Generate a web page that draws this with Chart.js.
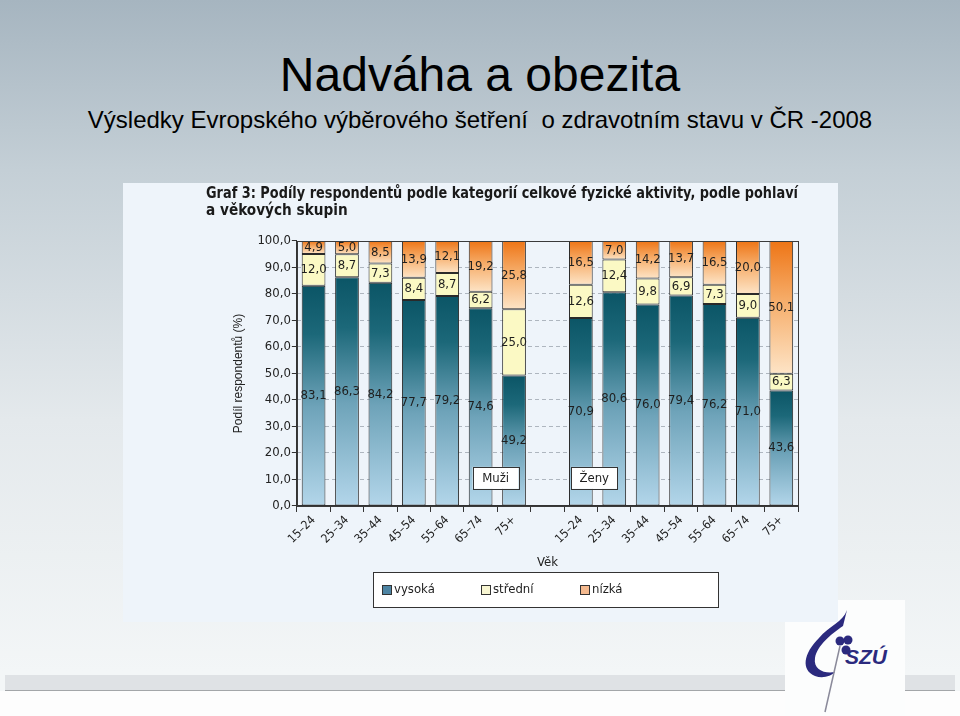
<!DOCTYPE html>
<html lang="cs">
<head>
<meta charset="utf-8">
<title>Nadváha a obezita</title>
<script src="https://cdn.jsdelivr.net/npm/chart.js@4.4.1/dist/chart.umd.min.js"></script>
<style>
  html, body { margin: 0; padding: 0; }
  body {
    width: 960px; height: 716px; position: relative; overflow: hidden;
    background: linear-gradient(#a6b5c0 0px, #c4cfd6 170px, #e4e9ec 420px, #f3f6f7 672px);
    font-family: 'Liberation Sans', Arial, sans-serif;
  }
  .title {
    position: absolute; left: 0; width: 960px; top: 47px;
    text-align: center; font-size: 48px; line-height: 56px; color: #000;
  }
  .subtitle {
    position: absolute; left: 0; width: 960px; top: 105px;
    text-align: center; font-size: 24px; line-height: 30px; color: #000;
    white-space: pre;
  }
  .band { position: absolute; top: 675px; height: 15px; background: #dfe2e5; border-bottom: 1px solid #a3a6a9; }
  .foot { position: absolute; top: 691px; left: 0; width: 960px; height: 25px; background: #fdfdfd; }
  .chart-box {
    position: absolute; left: 123px; top: 183px; width: 715px; height: 439px;
    background: #eef4fa;
  }
  .logo { position: absolute; left: 785px; top: 600px; width: 120px; height: 116px; background: #fcfdfd; }
</style>
</head>
<body>
<div class="title">Nadváha a obezita</div>
<div class="subtitle">Výsledky Evropského výběrového šetření  o zdravotním stavu v ČR -2008</div>
<div class="band" style="left:5px;width:780px"></div>
<div class="band" style="left:905px;width:50px"></div>
<div class="foot"></div>
<div class="logo">
  <svg width="120" height="116" viewBox="0 0 120 116">
    <path d="M62 10 C58 22 44 26 34 38 C18 54 16 70 30 76 C38 79 46 76 50 72 C40 74 28 70 30 58 C32 46 46 34 58 26 Z" fill="#2b2a7e"/>
    <circle cx="55" cy="41" r="4.5" fill="#2b2a7e"/>
    <circle cx="63" cy="40" r="4.5" fill="#2b2a7e"/>
    <circle cx="61" cy="50" r="4.5" fill="#2b2a7e"/>
    <path d="M55 46 L40 112" stroke="#8a8a9a" stroke-width="1.5" fill="none"/>
    <text x="60" y="64" font-family="Liberation Sans, Arial" font-weight="bold" font-style="italic" font-size="21" fill="#2b2a7e">SZÚ</text>
  </svg>
</div>
<div class="chart-box"><canvas id="graf3" width="715" height="439"></canvas></div>

<script>
// vekove skupiny
const ageGroups = ['15–24', '25–34', '35–44', '45–54', '55–64', '65–74', '75+'];

// Muzi (%)
const vysokaMuzi  = [83.1, 86.3, 84.2, 77.7, 79.2, 74.6, 49.2];
const stredniMuzi = [12.0, 8.7, 7.3, 8.4, 8.7, 6.2, 25.0];
const nizkaMuzi   = [4.9, 5.0, 8.5, 13.9, 12.1, 19.2, 25.8];

// Zeny (%)
const vysokaZeny  = [70.9, 80.6, 76.0, 79.4, 76.2, 71.0, 43.6];
const stredniZeny = [12.6, 12.4, 9.8, 6.9, 7.3, 9.0, 6.3];
const nizkaZeny   = [16.5, 7.0, 14.2, 13.7, 16.5, 20.0, 50.1];

const yTicks = [0, 10, 20, 30, 40, 50, 60, 70, 80, 90, 100];

// prazdna kategorie mezi muzi a zenami
const labels = [...ageGroups, '', ...ageGroups];
const join = (m, z) => [...m, null, ...z];

const narrow = "'Liberation Sans Narrow', 'DejaVu Sans Condensed', Arial, sans-serif";
const fmt = v => v.toFixed(1).replace('.', ',');

// gradient pres jeden segment sloupce
function segmentFill(stops, fallback) {
  return function(ctx) {
    const chart = ctx.chart;
    if (!chart.chartArea || ctx.type !== 'data' || ctx.raw == null) return fallback;
    let base = 0;
    for (let d = 0; d < ctx.datasetIndex; d++) {
      base += chart.data.datasets[d].data[ctx.dataIndex] || 0;
    }
    const y = chart.scales.y;
    const top = y.getPixelForValue(base + ctx.raw);
    const bottom = y.getPixelForValue(base);
    const g = chart.ctx.createLinearGradient(0, top, 0, bottom);
    stops.forEach(s => g.addColorStop(s[0], s[1]));
    return g;
  };
}

const framePlugin = {
  id: 'frame',
  afterDraw(chart) {
    const {ctx, chartArea: a} = chart;
    ctx.save();
    ctx.strokeStyle = '#3a3a3a';
    ctx.lineWidth = 1;
    ctx.strokeRect(Math.round(a.left) + 0.5, Math.round(a.top) + 0.5,
      Math.round(a.right - a.left), Math.round(a.bottom - a.top));
    ctx.restore();
  }
};

const valueLabels = {
  id: 'valueLabels',
  afterDatasetsDraw(chart) {
    const ctx = chart.ctx;
    ctx.save();
    ctx.font = '13px ' + narrow;
    ctx.fillStyle = '#1e1e1e';
    ctx.textAlign = 'center';
    ctx.textBaseline = 'middle';
    chart.data.datasets.forEach((ds, i) => {
      chart.getDatasetMeta(i).data.forEach((bar, j) => {
        const v = ds.data[j];
        if (v == null) return;
        const p = bar.getProps(['x', 'y', 'base'], true);
        ctx.fillText(fmt(v), p.x, (p.y + p.base) / 2);
      });
    });
    ctx.restore();
  }
};

// popisky skupin Muzi / Zeny
const groupTags = {
  id: 'groupTags',
  afterDatasetsDraw(chart) {
    const {ctx, scales: {x, y}} = chart;
    const tags = [['Muži', 5.45], ['Ženy', 8.4]];
    ctx.save();
    ctx.font = '13px ' + narrow;
    ctx.textAlign = 'center';
    ctx.textBaseline = 'middle';
    tags.forEach(([text, at]) => {
      const cx = x.getPixelForValue(at);
      const cy = y.getPixelForValue(10.6);
      ctx.fillStyle = '#ffffff';
      ctx.fillRect(cx - 23, cy - 11, 46, 22);
      ctx.strokeStyle = '#333';
      ctx.strokeRect(Math.round(cx - 23) + 0.5, Math.round(cy - 11) + 0.5, 46, 22);
      ctx.fillStyle = '#1e1e1e';
      ctx.fillText(text, cx, cy + 1);
    });
    ctx.restore();
  }
};

// legenda v ramecku pod grafem
const boxLegend = {
  id: 'boxLegend',
  afterDraw(chart) {
    const {ctx, chartArea: a} = chart;
    const cx = (a.left + a.right) / 2;
    const left = Math.round(cx - 174) + 0.5, top = 389.5, w = 345, h = 35;
    ctx.save();
    ctx.fillStyle = '#ffffff';
    ctx.fillRect(left, top, w, h);
    ctx.strokeStyle = '#333';
    ctx.lineWidth = 1;
    ctx.strokeRect(left, top, w, h);
    ctx.font = '13px ' + narrow;
    ctx.textBaseline = 'middle';
    chart.data.datasets.forEach((ds, i) => {
      const sx = Math.round(left + 8 + i * 99);
      const sy = Math.round(top + h / 2 - 5);
      ctx.fillStyle = ds.legendColor;
      ctx.fillRect(sx, sy, 9, 9);
      ctx.strokeStyle = '#333';
      ctx.strokeRect(sx + 0.5, sy + 0.5, 9, 9);
      ctx.fillStyle = '#1e1e1e';
      ctx.fillText(ds.label, sx + 12, top + h / 2);
    });
    ctx.restore();
  }
};

new Chart(document.getElementById('graf3'), {
  type: 'bar',
  data: {
    labels: labels,
    datasets: [
      {
        label: 'vysoká',
        data: join(vysokaMuzi, vysokaZeny),
        legendColor: '#4d84a3',
        backgroundColor: segmentFill([[0, '#0b5566'], [0.22, '#1c6879'], [0.55, '#6ea3b9'], [1, '#b3d6ea']], '#4d84a3')
      },
      {
        label: 'střední',
        data: join(stredniMuzi, stredniZeny),
        legendColor: '#f8f6d2',
        backgroundColor: '#fbf9c4'
      },
      {
        label: 'nízká',
        data: join(nizkaMuzi, nizkaZeny),
        legendColor: '#f4b98e',
        backgroundColor: segmentFill([[0, '#ee7516'], [0.45, '#f6ad6a'], [1, '#fde4c6']], '#f4b98e')
      }
    ].map(ds => Object.assign(ds, {
      borderColor: '#2a2a2a',
      borderWidth: 1,
      borderSkipped: false,
      categoryPercentage: 1,
      barPercentage: 0.71
    }))
  },
  options: {
    responsive: false,
    animation: false,
    layout: { padding: { left: 83, right: 40, top: 0, bottom: 51 } },
    scales: {
      x: {
        stacked: true,
        grid: { display: true, drawOnChartArea: false, offset: true, tickLength: 6, tickColor: '#333' },
        border: { color: '#333' },
        ticks: {
          autoSkip: false, minRotation: 45, maxRotation: 45, padding: 1,
          color: '#222', font: { family: narrow, size: 12 }
        },
        title: {
          display: true, text: 'Věk', color: '#222',
          font: { family: narrow, size: 13 }, padding: { top: 7, bottom: 1 }
        }
      },
      y: {
        stacked: true,
        min: 0,
        max: 100,
        afterBuildTicks(scale) { scale.ticks = yTicks.map(v => ({ value: v })); },
        grid: {
          color: c => (c.tick && (c.tick.value === 0 || c.tick.value === 100)) ? 'rgba(0,0,0,0)' : '#aeb6bf',
          tickLength: 5, tickColor: '#333'
        },
        border: { color: '#333', dash: [4, 3] },
        ticks: {
          padding: 1, color: '#222', font: { family: narrow, size: 13 },
          callback: v => fmt(v)
        },
        title: {
          display: true, text: 'Podíl respondentů (%)', color: '#222',
          font: { family: 'Liberation Sans, Arial, sans-serif', size: 12 },
          padding: { top: 25, bottom: 11 }
        }
      }
    },
    plugins: {
      legend: { display: false },
      tooltip: { enabled: false },
      title: {
        display: true,
        align: 'start',
        text: ['Graf 3: Podíly respondentů podle kategorií celkové fyzické aktivity, podle pohlaví',
               'a věkových skupin'],
        color: '#1a1a1a',
        font: { family: "'Liberation Sans Narrow', 'DejaVu Sans Condensed', Arial, sans-serif", size: 15.2, weight: 'bold', lineHeight: 1.15 },
        padding: { top: 2, bottom: 21 }
      }
    }
  },
  plugins: [framePlugin, valueLabels, groupTags, boxLegend]
});
</script>
</body>
</html>
